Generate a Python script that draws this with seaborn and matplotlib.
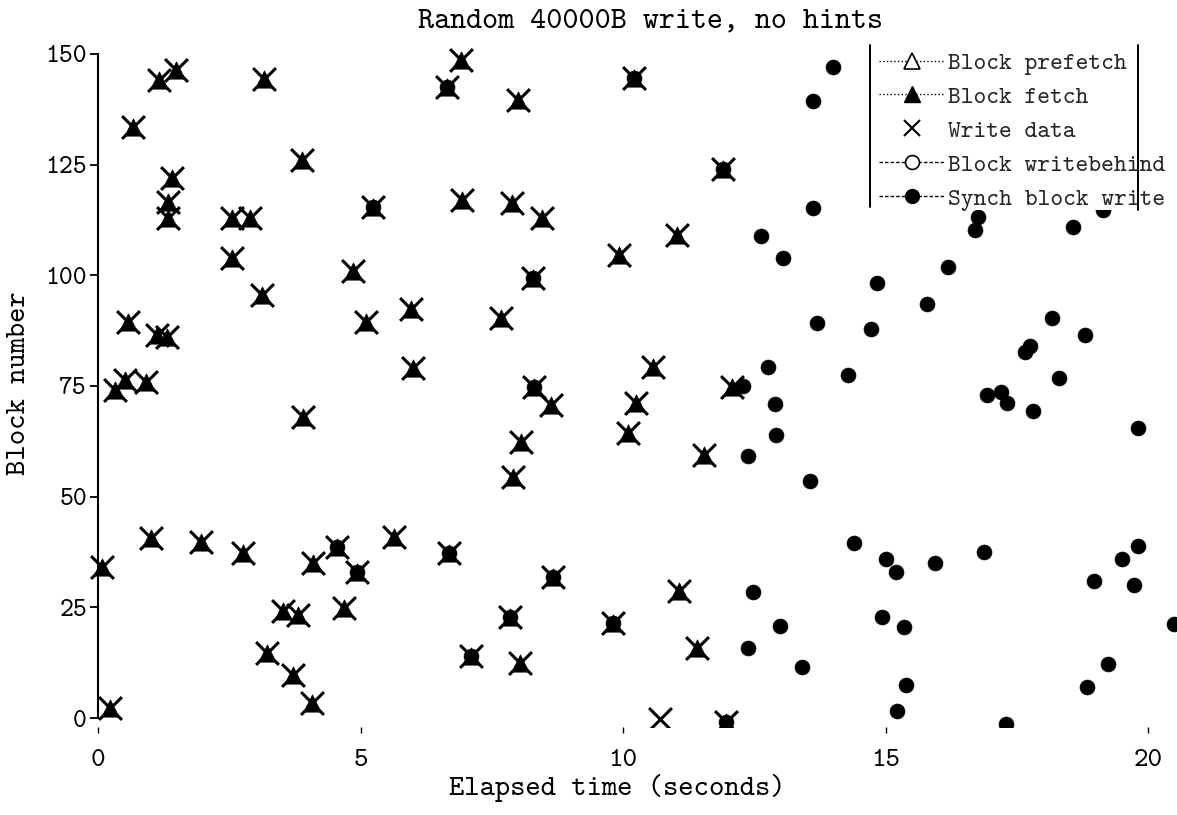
import numpy as np
import pandas as pd
import matplotlib
matplotlib.use("Agg")
import matplotlib.pyplot as plt
from matplotlib.lines import Line2D
from matplotlib.patches import Rectangle
import seaborn as sns

# ---------------- data ----------------
title = "Random 40000B write, no hints"
x_label = "Elapsed time (seconds)"
y_label = "Block number"
legend_labels = ["Block prefetch", "Block fetch", "Write data",
                 "Block writebehind", "Synch block write"]
x_ticks = [0, 5, 10, 15, 20]
y_ticks = [0, 25, 50, 75, 100, 125, 150]

fetch_t = [0.07, 0.23, 0.32, 0.51, 0.91, 0.57, 0.67, 1.00, 1.12, 1.31,
           1.17, 1.49, 1.40, 1.33, 1.33, 1.97, 2.55, 2.90, 2.55, 2.77,
           3.12, 3.17, 3.21, 3.52, 3.72, 3.81, 3.88, 3.90, 4.07, 4.10,
           4.55, 4.69, 4.86, 4.94, 5.10, 5.24, 5.63, 5.96, 6.00, 6.64,
           6.68, 6.91, 6.93, 7.10, 7.68, 7.85, 7.89, 7.90, 8.00, 8.04,
           8.06, 8.29, 8.30, 8.46, 8.63, 8.67, 9.80, 9.92, 10.10, 10.20,
           10.25, 10.57, 11.03, 11.07, 11.40, 11.54, 11.90, 11.96, 12.08]
fetch_b = [34.0, 2.3, 74.0, 76.3, 75.9, 89.5, 133.5, 40.6, 86.5, 86.0,
           144.1, 146.4, 122.0, 116.6, 112.9, 39.8, 113.0, 113.0, 104.0, 37.2,
           95.5, 144.3, 14.6, 24.2, 9.7, 23.2, 126.0, 68.0, 3.4, 35.0,
           38.7, 24.8, 101.0, 33.0, 89.5, 115.5, 40.9, 92.4, 79.0, 142.6,
           37.2, 148.6, 117.0, 14.0, 90.3, 22.8, 116.3, 54.4, 139.6, 12.4,
           62.3, 99.4, 74.8, 112.9, 70.7, 31.9, 21.5, 104.6, 64.4, 144.5,
           71.2, 79.3, 109.1, 28.7, 15.8, 59.4, 124.0, -0.8, 74.8]

write_t = fetch_t + [10.70]
write_b = fetch_b + [-0.3]

prefetch_t, prefetch_b = [], []
writebehind_t, writebehind_b = [], []

synch_t = [4.55, 4.94, 5.24, 6.64, 6.68, 7.10, 7.85, 8.29, 8.30, 8.67,
           9.80, 10.20, 11.90, 11.96, 12.29, 12.38, 12.38, 12.48, 12.63, 12.76,
           12.90, 12.92, 12.99, 13.05, 13.40, 13.56, 13.62, 13.62, 13.70, 14.00,
           14.29, 14.40, 14.72, 14.84, 14.93, 15.00, 15.20, 15.21, 15.35, 15.39,
           15.79, 15.94, 16.19, 16.70, 16.76, 16.88, 16.93, 17.20, 17.31, 17.30,
           17.65, 17.75, 17.80, 18.17, 18.30, 18.57, 18.80, 18.84, 18.97, 19.14,
           19.24, 19.50, 19.73, 19.80, 19.81, 20.50]
synch_b = [38.7, 33.0, 115.5, 142.6, 37.2, 14.0, 22.8, 99.4, 74.8, 31.9,
           21.5, 144.5, 124.0, -0.8, 75.0, 59.2, 15.8, 28.5, 108.9, 79.3,
           71.0, 64.0, 20.8, 103.9, 11.5, 53.5, 139.4, 115.2, 89.2, 147.1,
           77.5, 39.6, 87.9, 98.3, 22.8, 35.9, 33.0, 1.6, 20.6, 7.5,
           93.5, 35.0, 101.9, 110.2, 113.2, 37.5, 73.0, 73.7, 71.2, -1.4,
           82.7, 84.0, 69.3, 90.4, 76.8, 110.9, 86.5, 7.0, 31.0, 114.8,
           12.2, 35.9, 30.0, 38.9, 65.5, 21.2]

fetch_df = pd.DataFrame({"t": fetch_t, "block": fetch_b})
write_df = pd.DataFrame({"t": write_t, "block": write_b})
synch_df = pd.DataFrame({"t": synch_t, "block": synch_b})

# ---------------- style ----------------
sns.set_style("ticks")
FONT = ["cmtt10", "DejaVu Sans Mono"]
plt.rcParams["font.family"] = FONT
plt.rcParams["axes.unicode_minus"] = False

W, H = 1177, 815
fig = plt.figure(figsize=(W / 100, H / 100), dpi=100)
fig.patch.set_facecolor("white")

ax_l, ax_r = 77, 1177
ax_bot, ax_top = 726.9, 45.0
ax = fig.add_axes([ax_l / W, (H - ax_bot) / H, (ax_r - ax_l) / W, (ax_bot - ax_top) / H])
ax.set_facecolor("white")

sns.scatterplot(data=synch_df, x="t", y="block", ax=ax, marker="o", s=115,
                color="black", edgecolor="black", linewidth=0.5, zorder=3, legend=False)
sns.scatterplot(data=fetch_df, x="t", y="block", ax=ax, marker="^", s=155,
                color="black", edgecolor="black", linewidth=0.5, zorder=4, legend=False)
sns.scatterplot(data=write_df, x="t", y="block", ax=ax, marker="x", s=270,
                color="black", linewidth=2.2, zorder=5, legend=False)

ax.set_xlim(-0.4, 20.55)
ax.set_ylim(-2, 152)

for side in ["top", "right", "bottom"]:
    ax.spines[side].set_visible(False)
ax.spines["left"].set_position(("data", 0))
ax.spines["left"].set_bounds(0, 150)
ax.spines["left"].set_linewidth(1.5)
ax.spines["left"].set_color("black")

ax.set_xticks(x_ticks)
ax.set_xticklabels([str(v) for v in x_ticks])
ax.set_yticks(y_ticks)
ax.set_yticklabels([str(v) for v in y_ticks])
ax.tick_params(axis="y", direction="out", length=6, width=1.3, pad=2,
               labelsize=19, colors="black")
ax.tick_params(axis="x", direction="out", length=4, width=1.0, pad=12,
               labelsize=20, colors="black")

ax.set_xlabel(x_label, fontsize=21, color="black")
ax.xaxis.label.set_va("baseline")
ax.xaxis.set_label_coords((617 - ax_l) / (ax_r - ax_l), -(795 - ax_bot) / (ax_bot - ax_top))
ax.set_ylabel(y_label, fontsize=21, color="black")
ax.yaxis.label.set_va("center")
ax.yaxis.set_label_coords((20 - ax_l) / (ax_r - ax_l), (ax_bot - 383) / (ax_bot - ax_top))

ax.set_title(title, fontsize=22, color="black", pad=0,
             x=(650 - ax_l) / (ax_r - ax_l), y=(ax_bot - 28) / (ax_bot - ax_top),
             va="baseline")

# ---------------- legend ----------------
fig.add_artist(Rectangle((870 / W, (H - 210) / H), (1138 - 870) / W, (210 - 45) / H,
                         transform=fig.transFigure, facecolor="white",
                         edgecolor="none", zorder=2))
for xp, y0, y1 in [(870, 45, 207), (1138, 45, 210)]:
    fig.add_artist(Line2D([xp / W, xp / W], [(H - y0) / H, (H - y1) / H],
                          transform=fig.transFigure, color="black", lw=1.4, zorder=3))

handles = [
    Line2D([], [], color="black", ls=":", lw=1, marker="^", ms=11,
           mfc="white", mec="black", mew=1.2),
    Line2D([], [], color="black", ls=":", lw=1, marker="^", ms=11,
           mfc="black", mec="black"),
    Line2D([], [], color="black", ls="none", marker="x", ms=11, mew=1.5),
    Line2D([], [], color="black", ls="--", lw=1, marker="o", ms=10,
           mfc="white", mec="black", mew=1.2, dashes=(2.5, 1.5)),
    Line2D([], [], color="black", ls="--", lw=1, marker="o", ms=10,
           mfc="black", mec="black", dashes=(2.5, 1.5)),
]
leg = fig.legend(handles, legend_labels, loc="upper left",
                 bbox_to_anchor=(879 / W, (H - 52) / H),
                 frameon=False, handlelength=2.7, handletextpad=0.15,
                 labelspacing=0.45, borderpad=0, borderaxespad=0,
                 prop={"family": FONT, "size": 17.5})
leg.set_zorder(4)

fig.savefig("out.png", dpi=100, facecolor="white")
